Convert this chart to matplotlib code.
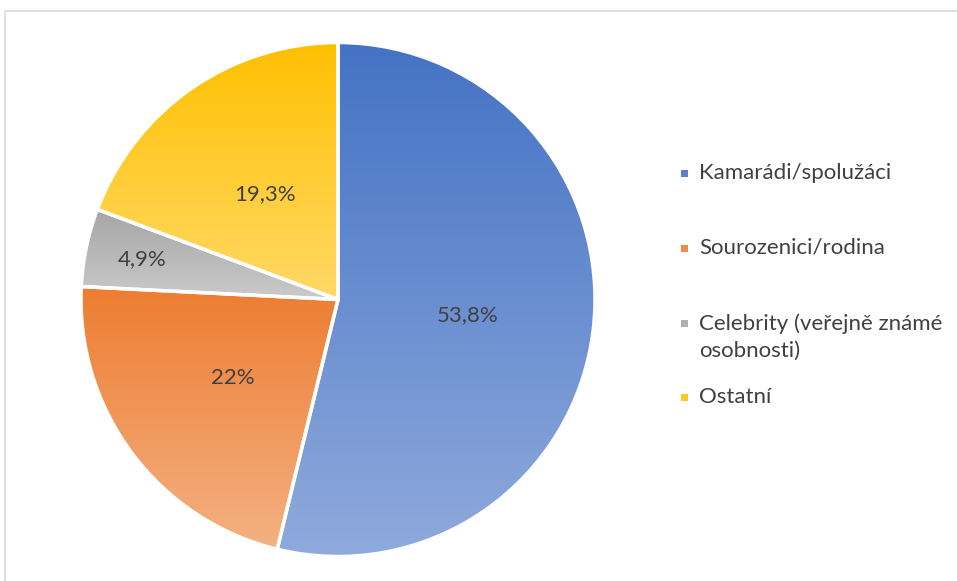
import numpy as np
import matplotlib
matplotlib.use("Agg")
import matplotlib.pyplot as plt
from matplotlib.colors import LinearSegmentedColormap
from matplotlib.patches import Rectangle

plt.rcParams["font.family"] = ["Lato", "DejaVu Sans"]

# data
categories = ["Kamarádi/spolužáci", "Sourozenici/rodina",
              "Celebrity (veřejně známé\nosobnosti)", "Ostatní"]
values = [53.8, 22.0, 4.9, 19.3]
value_labels = ["53,8%", "22%", "4,9%", "19,3%"]

# styling
top_colors = ["#4472C4", "#ED7D31", "#A5A5A5", "#FFC000"]
bottom_colors = ["#8FAADC", "#F4B183", "#CACACA", "#FFD966"]
legend_colors = ["#5B80CC", "#EF8C4C", "#B0B0B0", "#FFC727"]
label_radius = [0.51, 0.51, 0.78, 0.50]
text_color = "#404040"

W, H = 957, 581
fig = plt.figure(figsize=(W / 100, H / 100), dpi=100)

# chart frame
fig.patches.append(Rectangle((5 / W, -0.01), 1.0, 1 - 11 / H + 0.01, transform=fig.transFigure,
                             fill=False, edgecolor="#D9D9D9", linewidth=1.2))

cx, cy, r = 338, 299.5, 257
ax = fig.add_axes([(cx - r) / W, (H - cy - r) / H, 2 * r / W, 2 * r / H])
ax.set_aspect("equal")
ax.axis("off")

wedges, _ = ax.pie(values, startangle=90, counterclock=False, radius=1,
                   wedgeprops=dict(facecolor="none", edgecolor="white", linewidth=2.5),
                   frame=False)

# vertical gradient fill per slice (dark top -> light bottom)
for w, c_top, c_bot in zip(wedges, top_colors, bottom_colors):
    w.set_zorder(3)
    bb = w.get_path().get_extents(w.get_patch_transform())
    cmap = LinearSegmentedColormap.from_list("g", [c_bot, c_top])
    grad = np.linspace(0, 1, 256).reshape(-1, 1)
    im = ax.imshow(grad, cmap=cmap, origin="lower", aspect="auto",
                   extent=(bb.x0, bb.x1, bb.y0, bb.y1), zorder=1, interpolation="bilinear")
    im.set_clip_path(w)

ax.set_xlim(-1, 1)
ax.set_ylim(-1, 1)

# value labels
for w, lab, lr in zip(wedges, value_labels, label_radius):
    ang = np.deg2rad((w.theta1 + w.theta2) / 2)
    ax.text(lr * np.cos(ang), lr * np.sin(ang), lab, ha="center", va="center",
            fontsize=16, color=text_color, zorder=5)

# legend
legend_y = [173, 248, 323, 397]
for cat, col, ly in zip(categories, legend_colors, legend_y):
    fig.patches.append(Rectangle((681 / W, 1 - (ly + 4) / H), 7 / W, 7 / H,
                                 transform=fig.transFigure, facecolor=col, edgecolor="none"))
    if "\n" in cat:
        fig.text(699 / W, 1 - (ly - 10) / H, cat, ha="left", va="top",
                 fontsize=16, color=text_color, linespacing=1.45)
    else:
        fig.text(699 / W, 1 - ly / H, cat, ha="left", va="center",
                 fontsize=16, color=text_color)

fig.savefig("out.png", dpi=100)
